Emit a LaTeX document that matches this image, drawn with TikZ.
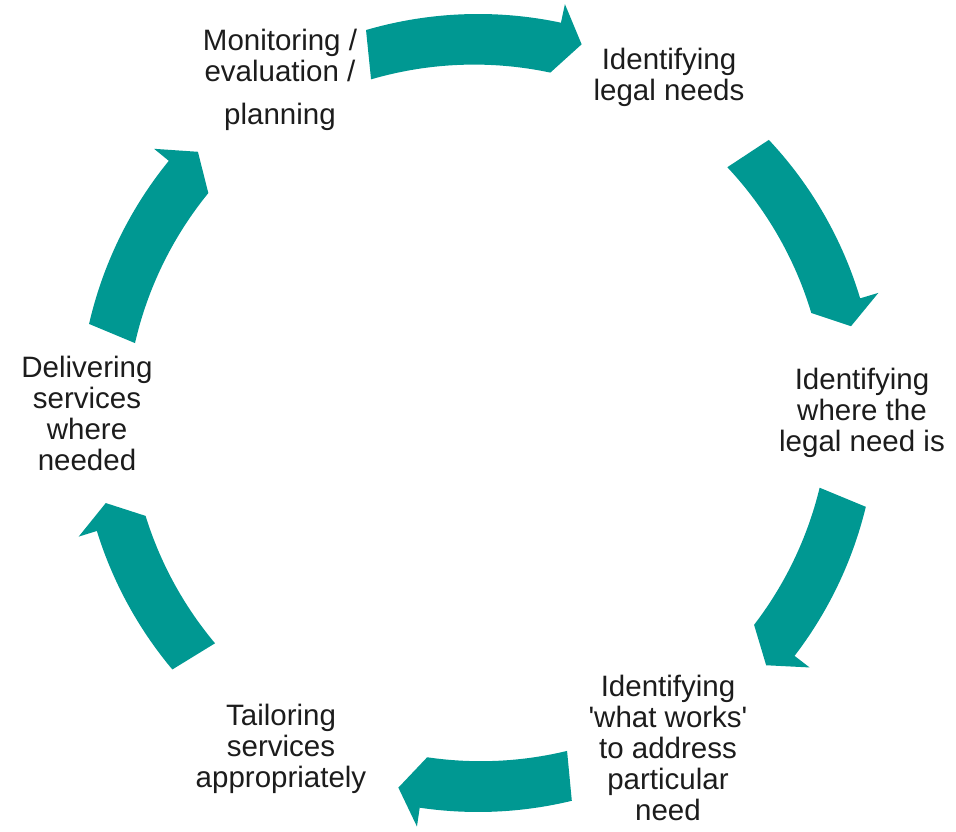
\documentclass[tikz,border=0pt]{standalone}
\usepackage{fontspec}
\setmainfont{Liberation Sans}
\usepackage{tikz}
\definecolor{sarcelle}{RGB}{0,152,146}
\definecolor{texte}{RGB}{28,28,28}

% fleche courbe : angle de la queue, angle de la base de la pointe, angle de la pointe
\newcommand{\flechecycle}[3]{%
  \fill[sarcelle] ([shift={(#1:399)}]centre) arc[start angle=#1, end angle=#2, radius=399]
    -- ([shift={(#2:418)}]centre) -- ([shift={(#3:383)}]centre)
    -- ([shift={(#2:348)}]centre) arc[start angle=#2, end angle=#1, radius=367] -- cycle;}

\begin{document}
\begin{tikzpicture}[x=1pt, y=1pt,
    etape/.style={text=texte, align=center, inner sep=0pt, font=\fontsize{29.5}{31}\selectfont}]
            \useasboundingbox (0,0) rectangle (956,831);
            \coordinate (centre) at (478,418);

            % Les fleches du cycle
            \flechecycle{106.3}{78}{74.3}
            \flechecycle{43.2}{16.7}{13.1}
            \flechecycle{-13.6}{-37.5}{-41.2}
            \flechecycle{-76.4}{-98.4}{-102}
            \flechecycle{-140}{-162.8}{-166.4}
            \flechecycle{167.1}{140.8}{137}

            % Les etapes
            \node[etape] (suivi) at (280,751) {Monitoring /\\ evaluation /\\[12pt] planning};
            \node[etape] (besoins) at (669,754) {Identifying\\ legal needs};
            \node[etape] (lieu) at (862,418) {Identifying\\ where the\\ legal need is};
            \node[etape] (solutions) at (668,83) {Identifying\\ \textquotesingle what works\textquotesingle\\ to address\\ particular\\ need};
            \node[etape] (adaptation) at (281,82) {Tailoring\\ services\\ appropriately};
            \node[etape] (services) at (87,418) {Delivering\\ services\\ where\\ needed};
        \end{tikzpicture}
\end{document}
